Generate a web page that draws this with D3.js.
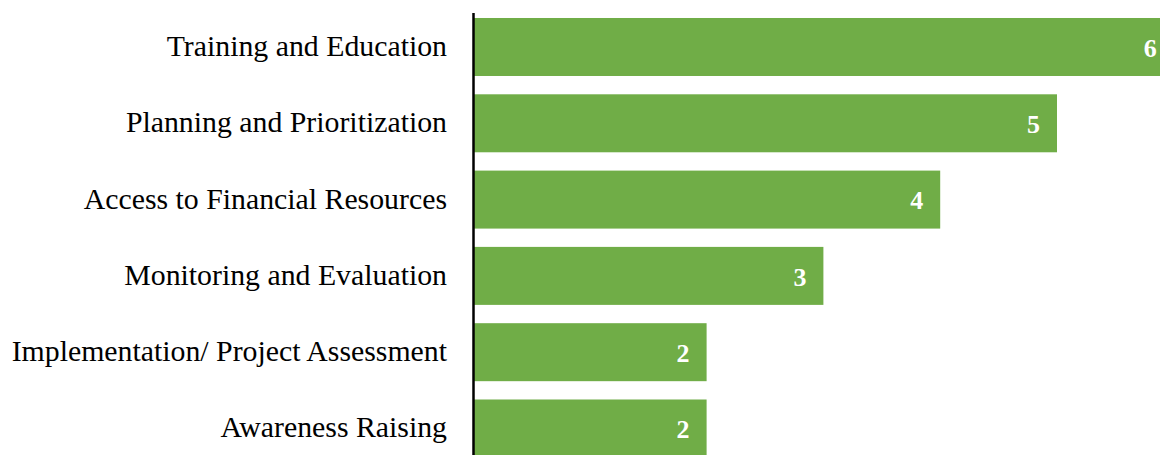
<!DOCTYPE html>
<html>
<head>
<meta charset="utf-8">
<script src="https://cdn.jsdelivr.net/npm/d3@7/dist/d3.min.js"></script>
<style>
  html, body { margin: 0; padding: 0; background: #fff; overflow: hidden; }
  svg { display: block; }
</style>
</head>
<body>
<svg id="chart" width="1160" height="455"></svg>
<script>
const categories = [
  "Training and Education",
  "Planning and Prioritization",
  "Access to Financial Resources",
  "Monitoring and Evaluation",
  "Implementation/ Project Assessment",
  "Awareness Raising"
];
const values = [6, 5, 4, 3, 2, 2];

const svg = d3.select("#chart");
const x0 = 473, unit = 116.8;
const x = d3.scaleLinear().domain([0, 6]).range([x0, x0 + 6 * unit]);
const step = 76.3;
const y = d3.scaleBand().domain(categories)
  .range([8.84, 8.84 + 6 * step])
  .paddingInner(0.24).paddingOuter(0.12);

const data = categories.map((c, i) => ({ c, v: values[i] }));

svg.selectAll("rect.bar").data(data).enter().append("rect")
  .attr("class", "bar")
  .attr("x", x(0))
  .attr("y", d => y(d.c))
  .attr("width", d => x(d.v) - x(0))
  .attr("height", y.bandwidth())
  .attr("fill", "#70AD47");

svg.selectAll("text.val").data(data).enter().append("text")
  .attr("class", "val")
  .attr("x", d => x(d.v) - 17)
  .attr("y", d => y(d.c) + y.bandwidth() / 2)
  .attr("dy", "0.38em")
  .attr("text-anchor", "end")
  .attr("fill", "#fff")
  .attr("font-family", "'Liberation Serif', 'Times New Roman', serif")
  .attr("font-weight", "bold")
  .attr("font-size", "26px")
  .text(d => d.v);

const axis = d3.axisLeft(y).tickSize(0).tickPadding(26);
const g = svg.append("g").attr("transform", `translate(${x0},0)`).call(axis);
g.select(".domain").remove();
g.selectAll("text")
  .attr("font-family", "'Liberation Serif', 'Times New Roman', serif")
  .attr("font-size", "29.8px")
  .attr("dy", "0.3em")
  .attr("fill", "#000");

svg.append("line")
  .attr("x1", x0 + 0.5).attr("x2", x0 + 0.5)
  .attr("y1", 13).attr("y2", 455)
  .attr("stroke", "#000").attr("stroke-width", 2.5);
</script>
</body>
</html>
